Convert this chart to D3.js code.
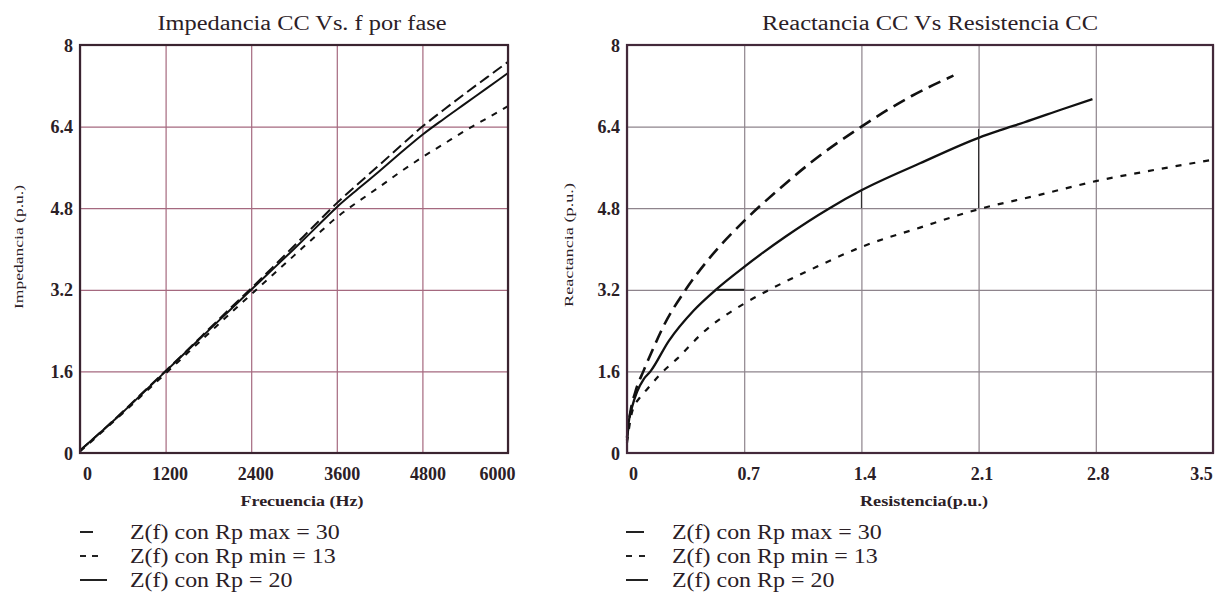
<!DOCTYPE html>
<html>
<head>
<meta charset="utf-8">
<script src="https://cdn.jsdelivr.net/npm/d3@7"></script>
<style>
  body { margin: 0; background: #fff; }
  svg { display: block; }
  text { font-family: "Liberation Serif", "Times New Roman", serif; fill: #2b2026; }
</style>
</head>
<body>
<svg width="1228" height="594"></svg>
<script>
// left chart: Z vs f
let freqHz = [0, 300, 600, 900, 1200, 1500, 1800, 2100, 2400, 2700, 3000, 3300, 3600, 3900, 4200, 4500, 4800, 5100, 5400, 5700, 6000]
let zRpMax = [0.05, 0.42, 0.81, 1.21, 1.61, 2.01, 2.42, 2.83, 3.23, 3.64, 4.06, 4.48, 4.9, 5.28, 5.65, 6.03, 6.4, 6.73, 7.05, 7.36, 7.67]
let zRpMin = [0.03, 0.4, 0.78, 1.17, 1.56, 1.95, 2.34, 2.73, 3.11, 3.49, 3.87, 4.25, 4.62, 4.93, 5.22, 5.52, 5.8, 6.06, 6.32, 6.56, 6.8]
let zRp20 = [0.05, 0.42, 0.8, 1.2, 1.6, 2.0, 2.4, 2.8, 3.2, 3.6, 4.0, 4.41, 4.82, 5.18, 5.53, 5.89, 6.24, 6.55, 6.85, 7.15, 7.45]
let freqTicks = [0, 1200, 2400, 3600, 4800, 6000]

// right chart: X vs R
let resMax = [0, 0.02, 0.05, 0.1, 0.15, 0.22, 0.35, 0.5, 0.7, 0.9, 1.1, 1.4, 1.7, 1.95]
let reacMax = [0.3, 0.8, 1.2, 1.62, 2.0, 2.5, 3.2, 3.85, 4.55, 5.15, 5.7, 6.4, 7.0, 7.4]
let resMin = [0, 0.03, 0.08, 0.12, 0.2, 0.3, 0.45, 0.7, 0.85, 1.1, 1.4, 1.75, 2.1, 2.45, 2.8, 3.15, 3.5]
let reacMin = [0.2, 0.8, 1.1, 1.25, 1.55, 1.85, 2.35, 2.93, 3.2, 3.6, 4.04, 4.42, 4.78, 5.05, 5.33, 5.55, 5.75]
let res20 = [0, 0.01, 0.03, 0.06, 0.1, 0.14, 0.25, 0.4, 0.53, 0.7, 0.95, 1.21, 1.4, 1.75, 2.1, 2.23, 2.37, 2.6, 2.78]
let reac20 = [0.25, 0.6, 0.9, 1.2, 1.45, 1.6, 2.2, 2.8, 3.2, 3.65, 4.25, 4.8, 5.15, 5.68, 6.18, 6.33, 6.48, 6.74, 6.94]
let resTicks = [0, 0.7, 1.4, 2.1, 2.8, 3.5]
// stray marks on the original plot
let marksR = [[0.53, 0.7], [1.4, 1.4], [2.1, 2.1]]
let marksX = [[3.2, 3.2], [4.8, 5.15], [4.8, 6.35]]

let yTicks = [0, 1.6, 3.2, 4.8, 6.4, 8]
let legendLabels = ['Z(f) con Rp max = 30', 'Z(f) con Rp min = 13', 'Z(f) con Rp = 20']

let svg = d3.select('svg')

let zip = (xs, ys) => xs.map((v, i) => [v, ys[i]])

let drawPanel = (p) => {
    let xScale = d3.scaleLinear().domain(p.xDomain).range([p.left, p.right])
    let yScale = d3.scaleLinear().domain([0, 8]).range([453, 45])
    let g = svg.append('g')

    // grid
    let xGrid = d3.axisBottom(xScale).tickValues(p.xTicks).tickSize(-(453 - 45)).tickFormat('')
    let yGrid = d3.axisLeft(yScale).tickValues(yTicks).tickSize(-(p.right - p.left)).tickFormat('')
    g.append('g').attr('transform', 'translate(0,453)').call(xGrid)
        .call(s => s.select('.domain').remove())
        .selectAll('line').attr('stroke', p.gridColor).attr('stroke-width', 1.2)
    g.append('g').attr('transform', 'translate(' + p.left + ',0)').call(yGrid)
        .call(s => s.select('.domain').remove())
        .selectAll('line').attr('stroke', p.gridColor).attr('stroke-width', 1.2)

    // curves
    let line = d3.line().x(d => xScale(d[0])).y(d => yScale(d[1])).curve(d3.curveMonotoneX)
    p.series.forEach(s => {
        g.append('path')
            .datum(s.points)
            .attr('d', line)
            .attr('fill', 'none')
            .attr('stroke', '#111')
            .attr('stroke-width', s.width)
            .attr('stroke-dasharray', s.dash)
    })
    if (p.marks) {
        let seg = d3.line().x(d => xScale(d[0])).y(d => yScale(d[1]))
        p.marks.forEach(m => {
            g.append('path').datum(m.points).attr('d', seg)
                .attr('fill', 'none').attr('stroke', '#222').attr('stroke-width', m.width)
        })
    }

    // frame
    g.append('rect')
        .attr('x', p.left).attr('y', 45)
        .attr('width', p.right - p.left).attr('height', 453 - 45)
        .attr('fill', 'none').attr('stroke', p.frameColor).attr('stroke-width', 2.2)

    // tick labels
    let xAxis = d3.axisBottom(xScale).tickValues(p.xTicks).tickSize(0).tickPadding(0).tickFormat(p.fmt)
    g.append('g').attr('transform', 'translate(0,480)').call(xAxis)
        .call(s => s.select('.domain').remove())
        .selectAll('text')
        .attr('dy', 0)
        .attr('dx', (d, i) => p.labelDx[i])
        .attr('font-size', 18).attr('font-weight', 'bold')
        .attr('font-family', '"Liberation Serif", serif').attr('fill', '#2b2026')
    let yAxis = d3.axisLeft(yScale).tickValues(yTicks).tickSize(0).tickPadding(0).tickFormat(d3.format('~g'))
    g.append('g').attr('transform', 'translate(' + p.yLabelX + ',0)').call(yAxis)
        .call(s => s.select('.domain').remove())
        .selectAll('text')
        .attr('dy', 6)
        .attr('font-size', 18).attr('font-weight', 'bold')
        .attr('font-family', '"Liberation Serif", serif').attr('fill', '#2b2026')

    // titles
    g.append('text').attr('x', p.titleX).attr('y', 30).attr('text-anchor', 'middle')
        .attr('font-size', 20).attr('textLength', p.titleLen).attr('lengthAdjust', 'spacingAndGlyphs')
        .text(p.title)
    g.append('text').attr('x', p.xTitleX).attr('y', 506).attr('text-anchor', 'middle')
        .attr('font-size', 14).attr('font-weight', 'bold')
        .attr('textLength', p.xTitleLen).attr('lengthAdjust', 'spacingAndGlyphs')
        .text(p.xTitle)
    g.append('text')
        .attr('transform', 'translate(' + p.yTitleX + ',' + p.yTitleY + ') rotate(-90)')
        .attr('text-anchor', 'middle').attr('font-size', 13.5)
        .attr('textLength', 124).attr('lengthAdjust', 'spacingAndGlyphs')
        .text(p.yTitle)

    // legend
    let legend = g.append('g').attr('transform', 'translate(' + p.legendX + ',0)')
    legendLabels.forEach((label, i) => {
        let y = 532 + i * 24
        let sym = p.legendSymbols[i]
        legend.append('line')
            .attr('x1', 0).attr('x2', sym.len).attr('y1', y).attr('y2', y)
            .attr('stroke', '#222').attr('stroke-width', 2).attr('stroke-dasharray', sym.dash)
        let t = legend.append('text').attr('x', p.legendTextDx).attr('y', y + 7)
            .attr('font-size', 21).text(label)
        // the original legend type is stretched wider than normal
        let w = t.node().getComputedTextLength()
        t.attr('textLength', w * 1.14).attr('lengthAdjust', 'spacingAndGlyphs')
    })
}

drawPanel({
    left: 80, right: 508,
    xDomain: [0, 6000], xTicks: freqTicks, fmt: d3.format('d'),
    labelDx: [7, 4, 4, 5, 5, -11],
    yLabelX: 73,
    gridColor: '#a5697f', frameColor: '#3a2430',
    title: 'Impedancia CC Vs. f por fase', titleX: 302, titleLen: 289,
    xTitle: 'Frecuencia (Hz)', xTitleX: 302, xTitleLen: 123,
    yTitle: 'Impedancia (p.u.)', yTitleX: 23, yTitleY: 247,
    legendX: 80, legendTextDx: 50,
    legendSymbols: [{ len: 13, dash: null }, { len: 22, dash: '6,6' }, { len: 27, dash: null }],
    series: [
        { points: zip(freqHz, zRpMax), dash: '11,5', width: 2 },
        { points: zip(freqHz, zRpMin), dash: '6,7', width: 2 },
        { points: zip(freqHz, zRp20), dash: null, width: 2 }
    ]
})

drawPanel({
    left: 627, right: 1213,
    xDomain: [0, 3.5], xTicks: resTicks, fmt: d3.format('~g'),
    labelDx: [6, 4, 3, 3, 2, -12],
    yLabelX: 620,
    gridColor: '#8e848c', frameColor: '#43293a',
    title: 'Reactancia CC Vs Resistencia CC', titleX: 930, titleLen: 336,
    xTitle: 'Resistencia(p.u.)', xTitleX: 924, xTitleLen: 128,
    yTitle: 'Reactancia (p.u.)', yTitleX: 573, yTitleY: 245,
    legendX: 626, legendTextDx: 46,
    legendSymbols: [{ len: 18, dash: null }, { len: 20, dash: '6,7' }, { len: 22, dash: null }],
    series: [
        { points: zip(resMax, reacMax), dash: '13,7', width: 2.6 },
        { points: zip(resMin, reacMin), dash: '6,8', width: 2.2 },
        { points: zip(res20, reac20), dash: null, width: 2.3 }
    ],
    marks: marksR.map((r, i) => ({ points: zip(r, marksX[i]), width: i === 0 ? 2 : 1 }))
})
</script>
</body>
</html>
